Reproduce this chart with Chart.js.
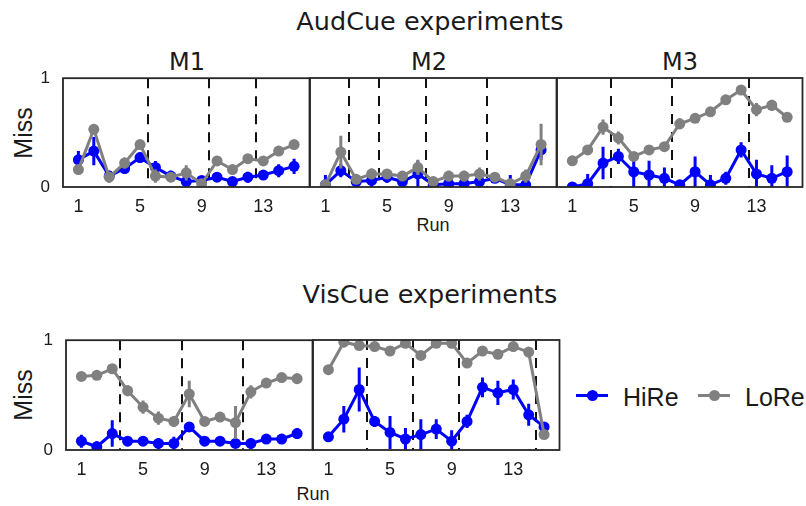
<!DOCTYPE html>
<html>
<head>
<meta charset="utf-8">
<script src="https://cdn.jsdelivr.net/npm/chart.js@4"></script>
<style>
  body { margin: 0; background: #fff; }
  #fig { position: relative; width: 806px; height: 506px; overflow: hidden; background: #fff; }
  #fig canvas { position: absolute; }
  .txt { position: absolute; white-space: nowrap; color: #1a1a1a; line-height: 1; }
  .title { font-family: "DejaVu Sans", sans-serif; font-size: 24px; transform: translateX(-50%); }
  .big { font-size: 25.5px; }
  .lab { font-family: "Liberation Sans", Arial, sans-serif; }
  .ylab { font-size: 25px; transform: translate(-50%, -50%) rotate(-90deg); }
  .xlab { font-size: 18px; transform: translateX(-50%); }
  .leg { font-size: 25px; }
  .legline { position: absolute; height: 3px; width: 32px; }
  .legdot { position: absolute; width: 11px; height: 11px; border-radius: 50%; }
</style>
</head>
<body>
<div id="fig">
  <div class="txt title big" style="left:430px; top:9px;">AudCue experiments</div>
  <div class="txt title" style="left:187px; top:50px;">M1</div>
  <div class="txt title" style="left:429px; top:50px;">M2</div>
  <div class="txt title" style="left:680px; top:50px;">M3</div>
  <div class="txt title big" style="left:430px; top:282px;">VisCue experiments</div>

  <div class="txt lab ylab" style="left:23px; top:133px;">Miss</div>
  <div class="txt lab ylab" style="left:23px; top:395px;">Miss</div>
  <div class="txt lab xlab" style="left:433px; top:216px;">Run</div>
  <div class="txt lab xlab" style="left:313px; top:485px;">Run</div>

  <div class="legline" style="left:576px; top:394px; background:#0000ff;"></div>
  <div class="legdot" style="left:586.5px; top:390px; background:#0000ff;"></div>
  <div class="txt lab leg" style="left:623px; top:385px;">HiRe</div>
  <div class="legline" style="left:698px; top:394px; background:#808080;"></div>
  <div class="legdot" style="left:708.5px; top:390px; background:#808080;"></div>
  <div class="txt lab leg" style="left:745px; top:385px;">LoRe</div>

  <canvas id="audM1"></canvas>
  <canvas id="audM2"></canvas>
  <canvas id="audM3"></canvas>
  <canvas id="visM1"></canvas>
  <canvas id="visM2"></canvas>
</div>

<script>
// run numbers and axis ticks
const runs = [1, 2, 3, 4, 5, 6, 7, 8, 9, 10, 11, 12, 13, 14, 15];
const runTicks = [1, 5, 9, 13];
const missTicks = [0, 1];

// AudCue, M1
const audM1HiRe    = [0.25, 0.33, 0.10, 0.17, 0.27, 0.18, 0.10, 0.05, 0.06, 0.09, 0.05, 0.09, 0.11, 0.15, 0.19];
const audM1HiReErr = [0.08, 0.13, 0.05, 0.05, 0.05, 0.06, 0.05, 0.04, 0.03, 0.04, 0.04, 0.05, 0.04, 0.06, 0.07];
const audM1LoRe    = [0.16, 0.53, 0.09, 0.22, 0.39, 0.10, 0.09, 0.13, 0.03, 0.24, 0.16, 0.26, 0.24, 0.33, 0.39];
const audM1LoReErr = [0.03, 0.04, 0.05, 0.05, 0.04, 0.06, 0.04, 0.07, 0.03, 0.04, 0.03, 0.04, 0.04, 0.04, 0.03];
const audM1Breaks  = [5.5, 9.5, 12.5];

// AudCue, M2
const audM2HiRe    = [0.02, 0.15, 0.05, 0.06, 0.09, 0.05, 0.12, 0.02, 0.03, 0.03, 0.05, 0.08, 0.02, 0.02, 0.34];
const audM2HiReErr = [0.09, 0.06, 0.07, 0.09, 0.05, 0.08, 0.12, 0.03, 0.07, 0.07, 0.05, 0.04, 0.09, 0.05, 0.09];
const audM2LoRe    = [0.02, 0.32, 0.07, 0.12, 0.12, 0.10, 0.18, 0.05, 0.10, 0.10, 0.12, 0.09, 0.03, 0.10, 0.39];
const audM2LoReErr = [0.03, 0.15, 0.04, 0.05, 0.04, 0.04, 0.07, 0.03, 0.05, 0.05, 0.06, 0.03, 0.04, 0.06, 0.19];
const audM2Breaks  = [2.5, 4.5, 7.5, 11.5];

// AudCue, M3
const audM3HiRe    = [0.00, 0.03, 0.22, 0.28, 0.14, 0.11, 0.08, 0.02, 0.14, 0.02, 0.08, 0.34, 0.12, 0.08, 0.14];
const audM3HiReErr = [0.03, 0.09, 0.15, 0.07, 0.14, 0.13, 0.10, 0.03, 0.14, 0.09, 0.06, 0.07, 0.13, 0.12, 0.15];
const audM3LoRe    = [0.24, 0.34, 0.55, 0.45, 0.28, 0.34, 0.37, 0.58, 0.63, 0.69, 0.80, 0.89, 0.71, 0.75, 0.64];
const audM3LoReErr = [0.03, 0.03, 0.07, 0.06, 0.03, 0.03, 0.04, 0.05, 0.03, 0.03, 0.03, 0.04, 0.06, 0.05, 0.03];
const audM3Breaks  = [3.5, 7.5, 12.5];

// VisCue, first panel
const visM1HiRe    = [0.08, 0.03, 0.15, 0.08, 0.08, 0.06, 0.06, 0.21, 0.08, 0.08, 0.06, 0.06, 0.10, 0.10, 0.15];
const visM1HiReErr = [0.06, 0.05, 0.12, 0.04, 0.04, 0.05, 0.06, 0.04, 0.03, 0.03, 0.03, 0.05, 0.03, 0.03, 0.05];
const visM1LoRe    = [0.67, 0.68, 0.74, 0.54, 0.39, 0.29, 0.26, 0.51, 0.26, 0.30, 0.25, 0.53, 0.61, 0.66, 0.65];
const visM1LoReErr = [0.02, 0.02, 0.03, 0.05, 0.06, 0.06, 0.05, 0.12, 0.03, 0.04, 0.15, 0.06, 0.03, 0.04, 0.05];
const visM1Breaks  = [3.5, 7.5, 11.5];

// VisCue, second panel
const visM2HiRe    = [0.12, 0.28, 0.55, 0.26, 0.16, 0.10, 0.14, 0.19, 0.08, 0.26, 0.57, 0.52, 0.55, 0.32, 0.21];
const visM2HiReErr = [0.03, 0.12, 0.20, 0.05, 0.15, 0.10, 0.14, 0.09, 0.10, 0.06, 0.09, 0.11, 0.09, 0.10, 0.04];
const visM2LoRe    = [0.73, 0.98, 0.95, 0.94, 0.90, 0.97, 0.86, 0.97, 0.97, 0.79, 0.90, 0.87, 0.94, 0.89, 0.14];
const visM2LoReErr = [0.02, 0.02, 0.02, 0.02, 0.02, 0.02, 0.03, 0.02, 0.02, 0.03, 0.02, 0.02, 0.02, 0.03, 0.03];
const visM2Breaks  = [3.5, 6.5, 9.5, 14.5];

const BLUE = '#0000ff';
const GRAY = '#808080';
const TICK_FONT = { family: '"Liberation Sans", Arial, sans-serif', size: 18 };

// dashed separators, drawn under the data
const breakLines = {
  id: 'breakLines',
  beforeDatasetsDraw(chart, args, opts) {
    const a = chart.chartArea, ctx = chart.ctx, x = chart.scales.x;
    ctx.save();
    ctx.strokeStyle = '#111';
    ctx.lineWidth = 2;
    ctx.setLineDash([10, 8]);
    (opts.at || []).forEach(v => {
      const px = Math.round(x.getPixelForValue(v));
      ctx.beginPath();
      ctx.moveTo(px, a.top);
      ctx.lineTo(px, a.bottom);
      ctx.stroke();
    });
    ctx.restore();
  }
};

// vertical error bars, under each dataset's own line
const errorBars = {
  id: 'errorBars',
  beforeDatasetDraw(chart, args) {
    const ds = chart.data.datasets[args.index];
    if (!ds.errors) return;
    const a = chart.chartArea, ctx = chart.ctx, y = chart.scales.y;
    ctx.save();
    ctx.beginPath();
    ctx.rect(a.left, a.top, a.right - a.left, a.bottom - a.top);
    ctx.clip();
    ctx.strokeStyle = ds.borderColor;
    ctx.lineWidth = 3;
    args.meta.data.forEach((pt, i) => {
      const v = ds.data[i].y, e = ds.errors[i];
      ctx.beginPath();
      ctx.moveTo(pt.x, y.getPixelForValue(v - e));
      ctx.lineTo(pt.x, y.getPixelForValue(v + e));
      ctx.stroke();
    });
    ctx.restore();
  }
};

// frame round each panel
const frame = {
  id: 'frame',
  afterDraw(chart) {
    const a = chart.chartArea, ctx = chart.ctx;
    ctx.save();
    ctx.strokeStyle = '#262626';
    ctx.lineWidth = 1.8;
    ctx.strokeRect(a.left, a.top, a.right - a.left, a.bottom - a.top);
    ctx.restore();
  }
};

function series(vals) {
  return runs.map((r, i) => ({ x: r, y: vals[i] }));
}

function panelConfig(hire, hireErr, lore, loreErr, breaks, showY, pad) {
  return {
    type: 'line',
    data: {
      datasets: [
        {
          label: 'LoRe',
          data: series(lore),
          errors: loreErr,
          borderColor: GRAY,
          backgroundColor: GRAY,
          borderWidth: 3,
          pointRadius: 5.5,
          pointBorderWidth: 0,
          order: 0
        },
        {
          label: 'HiRe',
          data: series(hire),
          errors: hireErr,
          borderColor: BLUE,
          backgroundColor: BLUE,
          borderWidth: 3,
          pointRadius: 5.5,
          pointBorderWidth: 0,
          order: 1
        }
      ]
    },
    options: {
      responsive: false,
      maintainAspectRatio: false,
      animation: false,
      layout: { padding: { top: pad.t, right: pad.r, bottom: 0, left: showY ? 0 : pad.l } },
      plugins: {
        legend: { display: false },
        tooltip: { enabled: false },
        breakLines: { at: breaks }
      },
      scales: {
        x: {
          type: 'linear',
          min: 0,
          max: 16,
          grid: { display: false, drawTicks: false },
          border: { display: false },
          ticks: { font: TICK_FONT, color: '#1a1a1a', padding: 9, maxRotation: 0 },
          afterBuildTicks: s => { s.ticks = runTicks.map(v => ({ value: v })); },
          afterFit: s => { s.height = pad.b; }
        },
        y: {
          display: showY,
          min: 0,
          max: 1,
          grid: { display: false, drawTicks: false },
          border: { display: false },
          ticks: { font: { family: TICK_FONT.family, size: 17 }, color: '#1a1a1a', padding: 13 },
          afterBuildTicks: s => { s.ticks = missTicks.map(v => ({ value: v })); },
          afterFit: s => { s.width = pad.l; }
        }
      }
    },
    plugins: [breakLines, errorBars, frame]
  };
}

function makePanel(id, box, hire, hireErr, lore, loreErr, breaks, showY) {
  const pad = { t: 14, b: 30, r: 4, l: showY ? 40 : 4 };
  const cv = document.getElementById(id);
  cv.width = pad.l + box.w + pad.r;
  cv.height = pad.t + box.h + pad.b;

  // first pass: see where the library puts the plot area, then size the canvas to fit the box
  let chart = new Chart(cv, panelConfig(hire, hireErr, lore, loreErr, breaks, showY, pad));
  let a = chart.chartArea;
  const dw = box.w - (a.right - a.left);
  const dh = box.h - (a.bottom - a.top);
  if (Math.abs(dw) > 0.5 || Math.abs(dh) > 0.5) {
    chart.destroy();
    cv.width = cv.width + dw;
    cv.height = cv.height + dh;
    chart = new Chart(cv, panelConfig(hire, hireErr, lore, loreErr, breaks, showY, pad));
    a = chart.chartArea;
  }
  cv.style.left = (box.left - a.left) + 'px';
  cv.style.top = (box.top - a.top) + 'px';
}

makePanel('audM1', { left: 63, top: 78, w: 247, h: 109 }, audM1HiRe, audM1HiReErr, audM1LoRe, audM1LoReErr, audM1Breaks, true);
makePanel('audM2', { left: 310, top: 78, w: 247, h: 109 }, audM2HiRe, audM2HiReErr, audM2LoRe, audM2LoReErr, audM2Breaks, false);
makePanel('audM3', { left: 557, top: 78, w: 246, h: 109 }, audM3HiRe, audM3HiReErr, audM3LoRe, audM3LoReErr, audM3Breaks, false);
makePanel('visM1', { left: 66, top: 340, w: 247, h: 110 }, visM1HiRe, visM1HiReErr, visM1LoRe, visM1LoReErr, visM1Breaks, true);
makePanel('visM2', { left: 313, top: 340, w: 247, h: 110 }, visM2HiRe, visM2HiReErr, visM2LoRe, visM2LoReErr, visM2Breaks, false);
</script>
</body>
</html>
